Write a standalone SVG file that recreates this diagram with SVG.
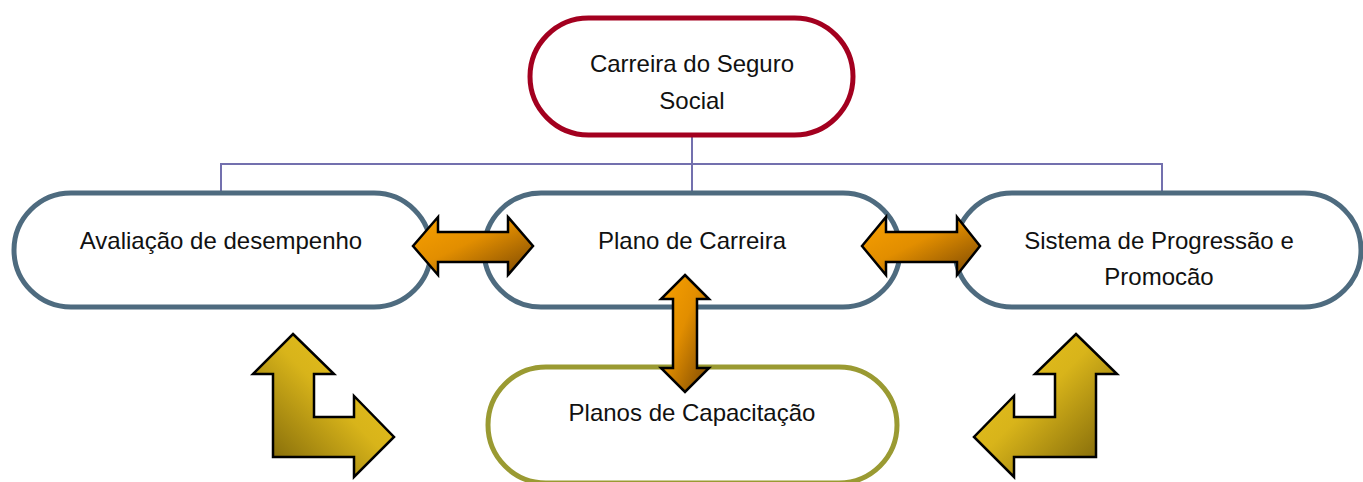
<svg xmlns="http://www.w3.org/2000/svg" width="1363" height="482" viewBox="0 0 1363 482">
<defs>
<linearGradient id="gOr" x1="0" y1="0" x2="1" y2="1">
<stop offset="0" stop-color="#F9A100"/>
<stop offset="0.45" stop-color="#E28E00"/>
<stop offset="1" stop-color="#7A4703"/>
</linearGradient>
<linearGradient id="gYl" x1="1" y1="0" x2="0" y2="1">
<stop offset="0" stop-color="#EDC51E"/>
<stop offset="0.45" stop-color="#D8B41A"/>
<stop offset="1" stop-color="#6E5806"/>
</linearGradient>
<linearGradient id="gYr" x1="0" y1="0" x2="1" y2="1">
<stop offset="0" stop-color="#EDC51E"/>
<stop offset="0.45" stop-color="#D8B41A"/>
<stop offset="1" stop-color="#6E5806"/>
</linearGradient>
</defs>
<style>
.node{fill:#ffffff;stroke-width:5}
.top{stroke:#A3001F}
.mid{stroke:#4E6B7F}
.bot{stroke:#9A9A32}
.lbl{font-family:"Liberation Sans",Arial,sans-serif;font-size:24px;fill:#111111;text-anchor:middle}
.conn{fill:none;stroke:#7370AE;stroke-width:2}
.arr{stroke:#000000;stroke-width:2.5;stroke-linejoin:miter}
</style>
<g id="connectors">
<path class="conn" d="M692 136 V192 M221 192 V164 H1162 V192"/>
</g>
<g id="node-top">
<rect class="node top" x="530" y="18" width="323" height="117" rx="58.5"/>
<text class="lbl" x="692" y="72">Carreira do Seguro</text>
<text class="lbl" x="692" y="109">Social</text>
</g>
<g id="node-avaliacao">
<rect class="node mid" x="14" y="193" width="417" height="114" rx="57"/>
<text class="lbl" x="221" y="249">Avaliação de desempenho</text>
</g>
<g id="node-plano">
<rect class="node mid" x="484" y="193" width="416" height="114" rx="57"/>
<text class="lbl" x="692" y="249">Plano de Carreira</text>
</g>
<g id="node-sistema">
<rect class="node mid" x="955" y="193" width="406" height="114" rx="57"/>
<text class="lbl" x="1159" y="249">Sistema de Progressão e</text>
<text class="lbl" x="1159" y="285">Promocão</text>
</g>
<g id="node-capacitacao">
<rect class="node bot" x="488" y="367" width="409" height="116" rx="58"/>
<text class="lbl" x="692" y="421">Planos de Capacitação</text>
</g>
<g id="arrows">
<polygon class="arr" fill="url(#gOr)" points="413,246 438,217 438,232 508,232 508,217 533,246 508,275 508,262 438,262 438,275"/>
<polygon class="arr" fill="url(#gOr)" points="862,246 886,217 886,232 957,232 957,217 980,246 957,275 957,262 886,262 886,275"/>
<polygon class="arr" fill="url(#gOr)" points="685,275 709,299 697,299 697,368 709,368 685,392 661,368 673,368 673,299 661,299"/>
<polygon class="arr" fill="url(#gYl)" points="293,334 334,374 314,374 314,417 354,417 354,396 394,437 354,477 354,457 273,457 273,374 253,374"/>
<polygon class="arr" fill="url(#gYr)" points="1076,334 1117,374 1096,374 1096,457 1014,457 1014,477 974,437 1014,396 1014,417 1055,417 1055,374 1035,374"/>
</g>
</svg>
